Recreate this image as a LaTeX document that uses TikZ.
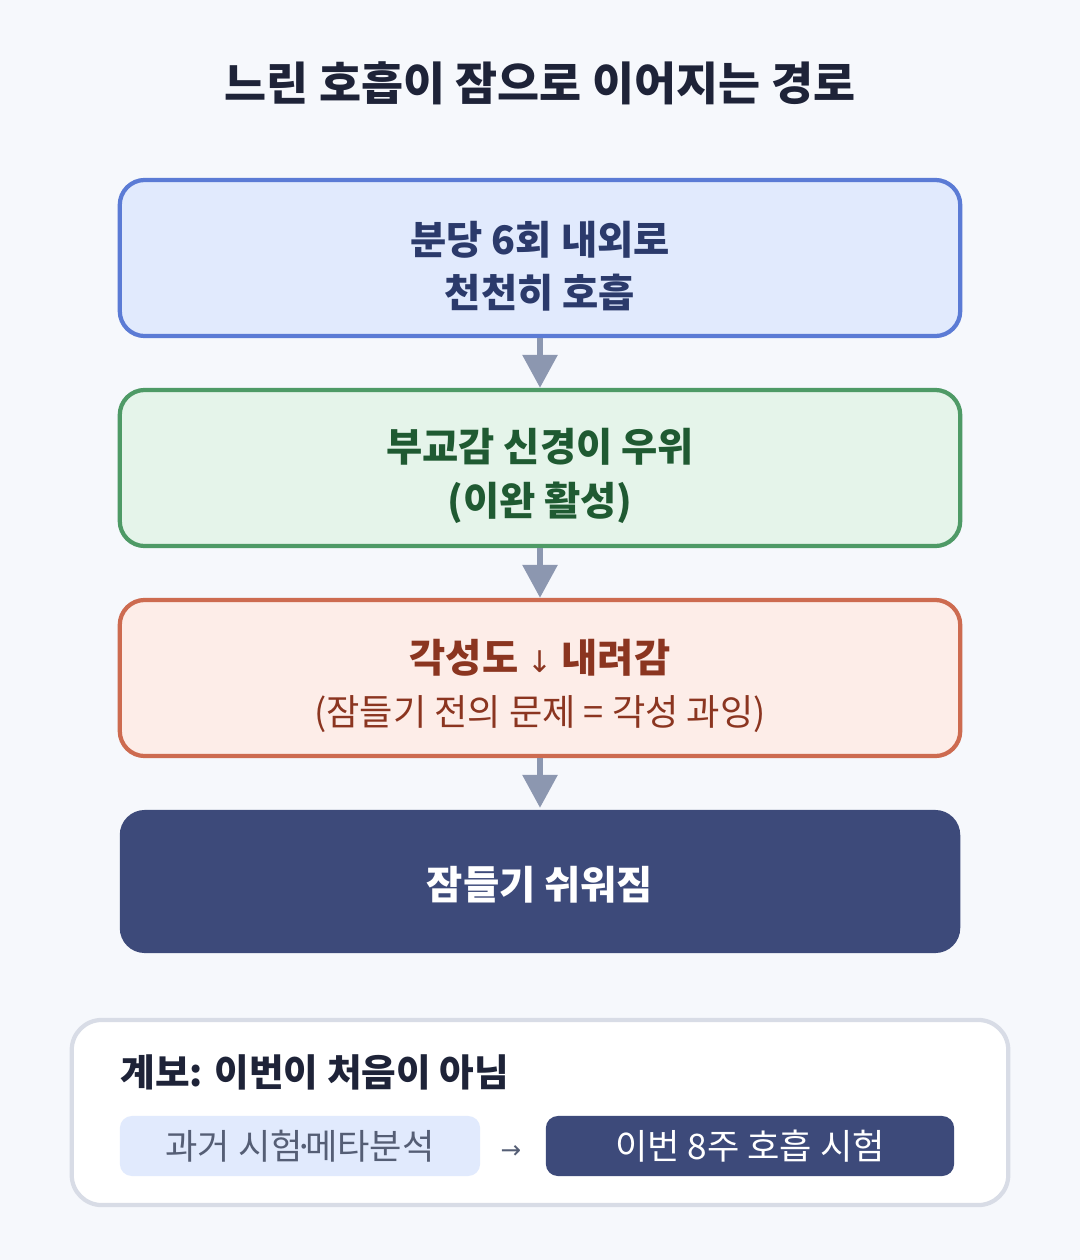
\documentclass[tikz,border=0pt]{standalone}
\usepackage{fontspec}
\setmainfont{Noto Sans CJK KR}
\newfontfamily\arrowfont{DejaVu Sans}
\usetikzlibrary{arrows.meta}
\definecolor{bgcol}{HTML}{F6F8FC}
\definecolor{titlecol}{HTML}{1E2338}
\definecolor{bluefill}{HTML}{E1EAFD}
\definecolor{blueline}{HTML}{5B7BD5}
\definecolor{bluetext}{HTML}{2B3A6B}
\definecolor{greenfill}{HTML}{E5F4EA}
\definecolor{greenline}{HTML}{4E9A66}
\definecolor{greentext}{HTML}{1F5A32}
\definecolor{redfill}{HTML}{FDEDE8}
\definecolor{redline}{HTML}{CD6B50}
\definecolor{redtext}{HTML}{8B3520}
\definecolor{navy}{HTML}{3D4A7A}
\definecolor{flowcol}{HTML}{8C97B0}
\definecolor{panelline}{HTML}{D8DCE6}
\definecolor{pilltext}{HTML}{555E75}
\newcommand{\toppad}{\rule{0pt}{14pt}}
\tikzset{
  stepbox/.style={rectangle,rounded corners=0.25cm,line width=1.2pt,
    minimum width=8.4cm,inner sep=0pt,align=center,
    font=\fontsize{11.2}{15.2}\selectfont\bfseries},
  pill/.style={rectangle,rounded corners=0.12cm,minimum height=0.6cm,
    inner sep=0pt,font=\fontsize{10}{12}\selectfont},
}
\begin{document}
\begin{tikzpicture}[x=0.01cm,y=-0.01cm]
    \fill[bgcol] (0,0) rectangle (1080,1260);
    \useasboundingbox (0,0) rectangle (1080,1260);
    \node[text=titlecol,font=\fontsize{13}{16}\selectfont\bfseries] (title) at (540,83) {느린 호흡이 잠으로 이어지는 경로};

\begin{scope}[every node/.style={stepbox}]
    \node[fill=bluefill,draw=blueline,text=bluetext,minimum height=1.56cm] (breath) at (540,258)
        {\toppad 분당 6회 내외로\\ 천천히 호흡};
    \node[fill=greenfill,draw=greenline,text=greentext,minimum height=1.56cm] (vagal) at (540,468)
        {\toppad 부교감 신경이 우위\\ (이완 활성)};
    \node[fill=redfill,draw=redline,text=redtext,minimum height=1.56cm] (arousal) at (540,678)
        {\toppad 각성도 {\arrowfont\mdseries\fontsize{8.5}{10}\selectfont ↓} 내려감\\
         \fontsize{10.3}{15}\selectfont\mdseries (잠들기 전의 문제 = 각성 과잉)};
    \node[fill=navy,text=white,minimum height=1.43cm] (sleep) at (540,881.5)
        {\rule{0pt}{11.5pt}잠들기 쉬워짐};
\end{scope}

\begin{scope}[every edge/.style={draw=flowcol,line width=1.7pt,
              -{Triangle[width=0.34cm,length=0.33cm]}}]
    \path (breath) edge (vagal);
    \path (vagal) edge (arousal);
    \path (arousal) edge (sleep);
\end{scope}

    % lineage panel
    \node[draw=panelline,fill=white,line width=1.2pt,rounded corners=0.3cm,
          minimum width=9.36cm,minimum height=1.85cm] (panel) at (540,1112.5) {};
    \node[anchor=west,inner sep=0pt,text=titlecol,font=\fontsize{10.7}{14}\selectfont\bfseries]
        (lineage) at (120,1072) {계보: 이번이 처음이 아님};
    \node[pill,fill=bluefill,text=pilltext,minimum width=3.6cm] (past) at (300,1146)
        {과거 시험\kern-0.25em·\kern-0.25em메타분석};
    \node[pill,fill=navy,text=white,minimum width=4.08cm] (now) at (750,1146) {이번 8주 호흡 시험};
    \node[text=pilltext,font=\arrowfont\fontsize{7}{9}\selectfont] (to) at (511,1152) {→};
\end{tikzpicture}
\end{document}
